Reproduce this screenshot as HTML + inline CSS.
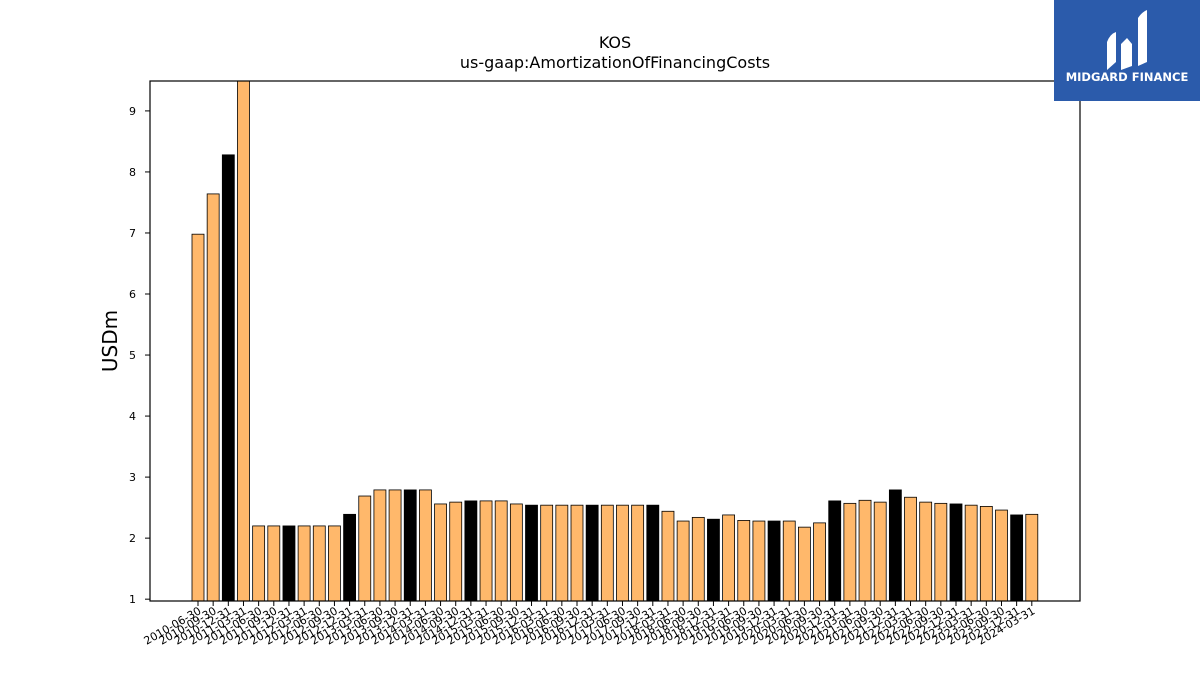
<!DOCTYPE html>
<html><head><meta charset="utf-8"><style>
body{margin:0;background:#fff;}
svg{display:block;font-family:"DejaVu Sans","Liberation Sans",sans-serif;}
</style></head><body>
<svg id="chart" width="1200" height="675">
<text x="615" y="48" text-anchor="middle" font-size="16">KOS</text>
<text x="615" y="68" text-anchor="middle" font-size="16">us-gaap:AmortizationOfFinancingCosts</text>
<text transform="translate(117,341) rotate(-90)" text-anchor="middle" font-size="20">USDm</text>
<g id="bars"></g>
<g id="yticks"></g>
<g id="xticks"></g>
<rect x="150" y="81" width="930" height="520" fill="none" stroke="#000" stroke-width="1.2"/>
<g>
<rect x="1054" y="0" width="146" height="101" fill="#2b5bab"/>
<path d="M1107 70 L1107 42 Q1110 34 1116 32 L1116 62 Z M1121 70 L1121 44 L1127 38 L1132 44 L1132 66 Z M1138 66 L1138 18 Q1142 12 1147 10 L1147 62 Z" fill="#fff"/>
<text x="1127" y="81" text-anchor="middle" font-size="11.5" font-weight="bold" fill="#fff">MIDGARD FINANCE</text>
</g>
</svg>
<script>
const labels=[];
(function(){const q=["03-31","06-30","09-30","12-31"];let y=2010,i=1;while(true){labels.push(y+"-"+q[i]);if(y===2024&&i===0)break;i++;if(i===4){i=0;y++;}}})();
const values=[6.98,7.64,8.28,9.6,2.2,2.2,2.2,2.2,2.2,2.2,2.39,2.69,2.79,2.79,2.79,2.79,2.56,2.59,2.61,2.61,2.61,2.56,2.54,2.54,2.54,2.54,2.54,2.54,2.54,2.54,2.54,2.44,2.28,2.34,2.31,2.38,2.29,2.28,2.28,2.28,2.18,2.25,2.61,2.57,2.62,2.59,2.79,2.67,2.59,2.57,2.56,2.54,2.52,2.46,2.38,2.39];
const yTicks=[1,2,3,4,5,6,7,8,9];
const yMin=0.97,yMax=9.49,plotTop=81,plotBot=601;
const ys=v=>plotBot-(v-yMin)/(yMax-yMin)*(plotBot-plotTop);
const step=15.16,x0=198;
const xs=i=>x0+i*step;
const NS="http://www.w3.org/2000/svg";
const mk=(t,a,p)=>{const e=document.createElementNS(NS,t);for(const k in a)e.setAttribute(k,a[k]);p.appendChild(e);return e;};
const bars=document.getElementById('bars'),yt=document.getElementById('yticks'),xt=document.getElementById('xticks');
values.forEach((v,i)=>{
 const yv=Math.max(ys(v),plotTop);
 const r=mk('rect',{x:xs(i)-6,y:yv,width:12,height:plotBot-yv,fill:(i%4===2)?'#000':'#ffb86b',stroke:'#000','stroke-width':0.8},bars);
 
 
 const t=mk('line',{x1:xs(i),x2:xs(i),y1:plotBot,y2:plotBot+5,stroke:'#000'},xt);
 
 
 const l=mk('text',{transform:`translate(${xs(i)+4},${plotBot+12}) rotate(-30)`,'text-anchor':'end','font-size':11},xt);
 l.textContent=labels[i];
 
 
});
yTicks.forEach(v=>{
 const t=mk('line',{x1:145,x2:150,y1:ys(v),y2:ys(v),stroke:'#000'},yt);
 
 
 const l=mk('text',{x:136,y:ys(v)+4,'text-anchor':'end','font-size':11},yt);
 l.textContent=v;
 
 
});
</script>
</body></html>
